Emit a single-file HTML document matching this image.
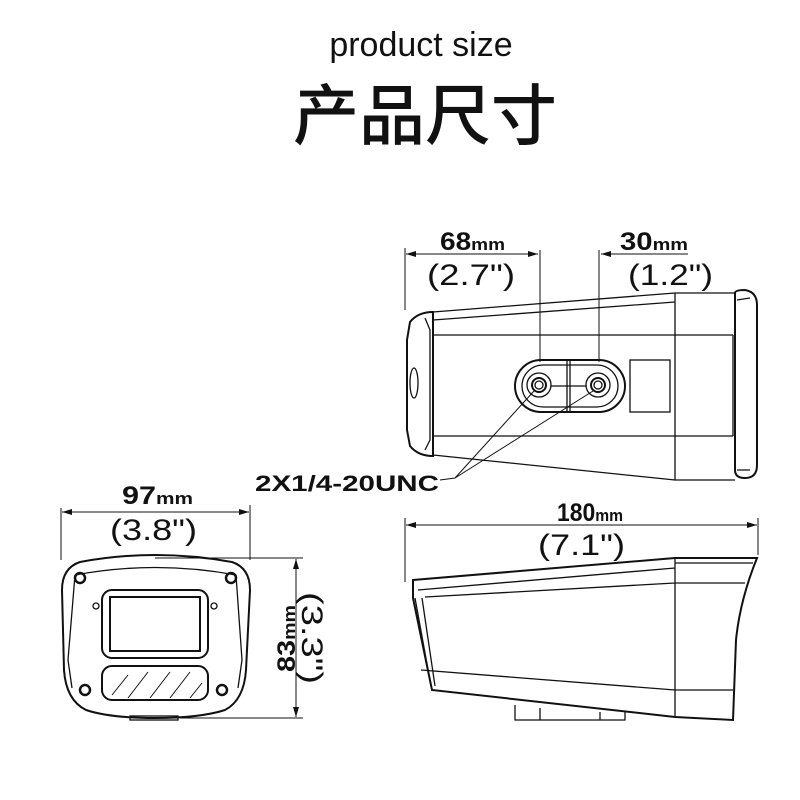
<!DOCTYPE html>
<html><head><meta charset="utf-8"><style>
html,body{margin:0;padding:0;background:#fff;width:800px;height:800px;overflow:hidden}
svg{display:block}
text{font-family:"Liberation Sans","Noto Sans CJK SC",sans-serif;fill:#111}
</style></head><body>
<svg width="800" height="800" viewBox="0 0 800 800" xmlns="http://www.w3.org/2000/svg">
<defs>
<marker id="a" viewBox="0 0 10 6" refX="10" refY="3" markerWidth="10" markerHeight="6" orient="auto-start-reverse" markerUnits="userSpaceOnUse"><path d="M0,0 L10,3 L0,6 z" fill="#111"/></marker>
</defs>
<text x="421" y="56" font-size="34" text-anchor="middle" font-family="'Noto Sans CJK SC',sans-serif">product size</text>
<text x="425" y="139" font-size="66" text-anchor="middle" font-family="'Noto Sans CJK SC',sans-serif" font-weight="500">产品尺寸</text>

<g stroke="#111" fill="none" stroke-width="1.3">
<line x1="405" y1="248" x2="405" y2="310" stroke-width="1"/>
<line x1="540" y1="250" x2="540" y2="362" stroke-width="1"/>
<line x1="599" y1="250" x2="599" y2="362" stroke-width="1"/>
<line x1="406" y1="254" x2="538" y2="254" stroke-width="1" marker-end="url(#a)" marker-start="url(#a)"/>
<line x1="601" y1="254" x2="688" y2="254" stroke-width="1" marker-start="url(#a)"/>
<path d="M433,312 L675,293 L735,293 M433,320 L675,302 M433,335 L733,335 M433,436 L733,436 M433,455 L675,480 L735,480 M675,293 L675,480 M733,335 L733,436"/>
<path d="M433,312 Q418,312 410,322 L407,340 L407,430 L410,446 Q418,456 433,456 Z" stroke-width="2"/>
<path d="M425,318 L430,330 L430,440 L425,450"/>
<ellipse cx="414" cy="383" rx="4" ry="15"/>
<path d="M735,293 Q735,290 745,290 Q757,292 757,305 L757,465 Q757,478 745,478 Q735,478 735,470 Z" stroke-width="2"/>
<path d="M737,300 L750,298 M737,470 L750,470"/>
<rect x="515" y="360" width="110" height="52" rx="26" stroke-width="2"/>
<rect x="522" y="365" width="96" height="42" rx="21"/>
<line x1="570" y1="360" x2="570" y2="412"/><line x1="567" y1="360" x2="567" y2="412"/>
<line x1="540" y1="386" x2="599" y2="386"/>
<circle cx="539" cy="385" r="12" fill="#fff"/><circle cx="539" cy="385" r="7" stroke-width="2"/><circle cx="539" cy="385" r="4"/>
<circle cx="598" cy="385" r="12" fill="#fff"/><circle cx="598" cy="385" r="7" stroke-width="2"/><circle cx="598" cy="385" r="4"/>
<rect x="630" y="360" width="40" height="52"/>
<path d="M440,480 L455,478 L534,391 M455,478 L593,391" stroke-width="1"/>

<line x1="61" y1="508" x2="61" y2="560" stroke-width="1"/>
<line x1="250" y1="505" x2="250" y2="560" stroke-width="1"/>
<line x1="62" y1="512" x2="249" y2="512" stroke-width="1" marker-end="url(#a)" marker-start="url(#a)"/>
<line x1="155" y1="558" x2="303" y2="558" stroke-width="1"/>
<line x1="180" y1="718" x2="303" y2="718" stroke-width="1"/>
<line x1="296" y1="559" x2="296" y2="717" stroke-width="1" marker-end="url(#a)" marker-start="url(#a)"/>
<path d="M80,562 Q155,548 232,562 Q250,568 250,590 L246,670 Q244,700 225,710 Q200,718 155,718 Q110,718 86,710 Q66,700 64,670 L62,590 Q62,568 80,562 Z" stroke-width="2"/>
<path d="M75,575 Q155,560 236,575 L242,660 L238,688 M75,575 L68,660 L72,688"/>
<circle cx="80" cy="578" r="5" stroke-width="2.5"/><circle cx="231" cy="578" r="5" stroke-width="2.5"/>
<circle cx="85" cy="690" r="5" stroke-width="2.5"/><circle cx="222" cy="690" r="5" stroke-width="2.5"/>
<rect x="102" y="590" width="106" height="68" rx="10" stroke-width="2"/>
<rect x="110" y="597" width="90" height="54" stroke-width="2"/>
<circle cx="96" cy="606" r="3"/><circle cx="214" cy="606" r="3"/>
<rect x="102" y="666" width="106" height="34" rx="10" stroke-width="2"/>
<path d="M112,695 L128,675 M128,698 L148,672 M150,698 L170,672 M170,698 L190,672 M190,698 L202,683" stroke-width="1"/>
<rect x="130" y="716" width="48" height="4"/>

<line x1="405" y1="518" x2="405" y2="582" stroke-width="1"/>
<line x1="758" y1="518" x2="758" y2="555" stroke-width="1"/>
<line x1="406" y1="525" x2="757" y2="525" stroke-width="1" marker-end="url(#a)" marker-start="url(#a)"/>
<path d="M413,580 L675,558 L757,558 Q740,600 736,640 L733,720 L675,717 L432,690 L413,598 Z" stroke-width="2"/>
<path d="M418,590 L675,568 M425,597 L675,583 M415,598 L431,686 M422,598 L435,686 M421,670 L675,690 M675,558 L675,717 M675,563 L753,563 M675,583 L745,583 M675,690 L733,690"/>
<path d="M515,705 L515,720 L625,720 L625,712 M540,708 L540,720 M600,712 L600,720"/>
</g>

<g font-family="'Liberation Sans',sans-serif" font-weight="bold">
<text x="440" y="250" font-size="25" textLength="65" lengthAdjust="spacingAndGlyphs">68<tspan font-size="17">mm</tspan></text>
<text x="427" y="285" font-size="30" font-weight="normal" font-family="'Liberation Mono',monospace" textLength="88" lengthAdjust="spacingAndGlyphs">(2.7")</text>
<text x="620" y="250" font-size="25" textLength="68" lengthAdjust="spacingAndGlyphs">30<tspan font-size="17">mm</tspan></text>
<text x="628" y="285" font-size="30" font-weight="normal" font-family="'Liberation Mono',monospace" textLength="85" lengthAdjust="spacingAndGlyphs">(1.2")</text>
<text x="255" y="491" font-size="22" textLength="184" lengthAdjust="spacingAndGlyphs">2X1/4-20UNC</text>
<text x="122" y="504" font-size="25" textLength="71" lengthAdjust="spacingAndGlyphs">97<tspan font-size="17">mm</tspan></text>
<text x="110" y="540" font-size="30" font-weight="normal" font-family="'Liberation Mono',monospace" textLength="87" lengthAdjust="spacingAndGlyphs">(3.8")</text>
<text x="557" y="521" font-size="25" textLength="66" lengthAdjust="spacingAndGlyphs">180<tspan font-size="17">mm</tspan></text>
<text x="538" y="555" font-size="30" font-weight="normal" font-family="'Liberation Mono',monospace" textLength="87" lengthAdjust="spacingAndGlyphs">(7.1")</text>
<text transform="translate(295,672) rotate(-90)" font-size="25" textLength="67" lengthAdjust="spacingAndGlyphs">83<tspan font-size="17">mm</tspan></text>
<text transform="translate(302,592) rotate(90)" font-size="30" font-weight="normal" font-family="'Liberation Mono',monospace" textLength="92" lengthAdjust="spacingAndGlyphs">(3.3")</text>
</g>
</svg>
</body></html>
